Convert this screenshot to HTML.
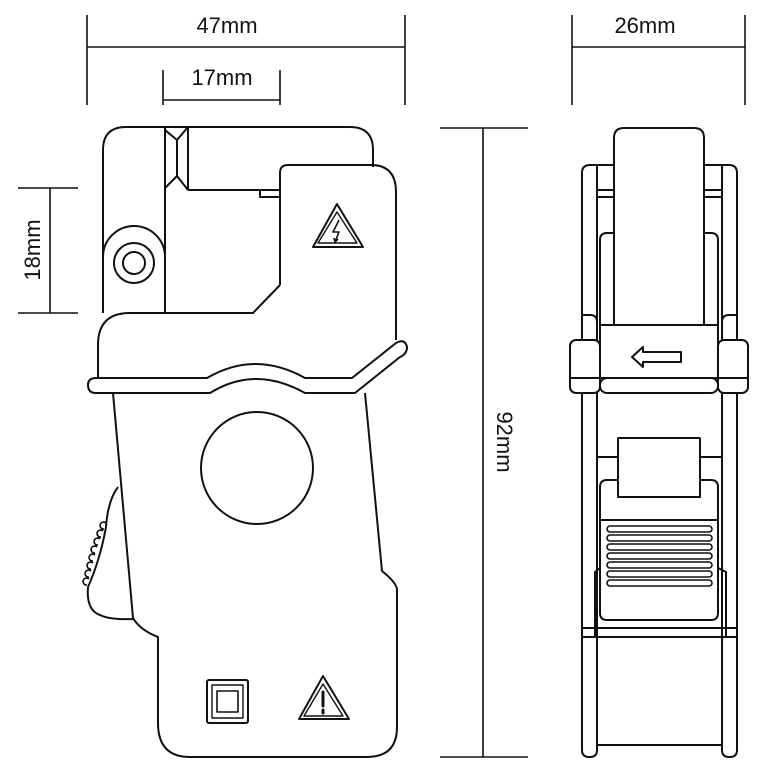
<!DOCTYPE html>
<html><head><meta charset="utf-8"><style>
html,body{margin:0;padding:0;background:#fff;width:760px;height:770px;overflow:hidden}
svg{display:block}
text{font-family:"Liberation Sans",sans-serif;font-size:22px;fill:#111}
</style></head><body>
<svg width="760" height="770" viewBox="0 0 760 770" xmlns="http://www.w3.org/2000/svg">
<g fill="none" stroke="#111" stroke-width="1.6">
<line x1="87" y1="15" x2="87" y2="105"/><line x1="405" y1="15" x2="405" y2="105"/>
<line x1="87" y1="47" x2="405" y2="47"/>
<line x1="163" y1="70" x2="163" y2="105"/><line x1="280" y1="70" x2="280" y2="105"/>
<line x1="163" y1="100" x2="280" y2="100"/>
<line x1="18" y1="188" x2="78" y2="188"/><line x1="18" y1="313" x2="78" y2="313"/>
<line x1="50" y1="188" x2="50" y2="313"/>
<line x1="440" y1="128" x2="528" y2="128"/><line x1="440" y1="757" x2="528" y2="757"/>
<line x1="483" y1="128" x2="483" y2="757"/>
<line x1="572" y1="15" x2="572" y2="105"/><line x1="745" y1="15" x2="745" y2="105"/>
<line x1="572" y1="47" x2="745" y2="47"/>
</g>
<text x="227" y="33" text-anchor="middle">47mm</text>
<text x="222" y="85" text-anchor="middle">17mm</text>
<text x="645" y="33" text-anchor="middle">26mm</text>
<text transform="translate(40,250) rotate(-90)" text-anchor="middle">18mm</text>
<text transform="translate(497,442) rotate(90)" text-anchor="middle">92mm</text>

<g fill="none" stroke="#111" stroke-width="2" stroke-linejoin="round">
<path d="M103,313 V150 Q103,127 126,127 H350 Q373,127 373,150 V167"/>
<line x1="165" y1="127" x2="165" y2="313"/>
<path d="M165,130 L177,140 V176 L165,188"/>
<path d="M188,127 L177,140 M177,176 L188,190"/>
<line x1="188" y1="127" x2="188" y2="190"/>
<line x1="188" y1="190" x2="280" y2="190"/>
<path d="M260,190 V197 H280"/>
<path d="M280,285 V173 Q280,165 288,165 H371 Q396,165 396,192 V340"/>
<path d="M280,285 L253,313 H130 Q98,313 98,345 V378"/>
<path d="M103,257 A31,31 0 0 1 165,257"/>
<circle cx="134" cy="263" r="20"/><circle cx="134" cy="263" r="11"/>
<path d="M96,378 H207 Q255,350 305,378 H352 L396,343 Q405,338 407,347 Q407,354 400,357 L355,393 H305 Q255,365 210,393 H96 Q88,393 88,385 Q88,378 96,378 Z"/>
<path d="M113,393 L133,618 Q140,630 158,637 V723 Q158,757 190,757 H367 Q397,757 397,727 V590 Q397,583 382,571 L365,393"/>
<path d="M118,487 Q108,500 106,527 Q100,560 88,587 Q86,610 100,615 Q110,620 133,619"/>
<path d="M106,523 a3.5,3.5 0 1 0 -2,6 M103,531 a3.5,3.5 0 1 0 -2,6 M100,539 a3.5,3.5 0 1 0 -2,6 M97,547 a3.5,3.5 0 1 0 -2,6 M95,555 a3.5,3.5 0 1 0 -2,6 M93,563 a3.5,3.5 0 1 0 -2,6 M91,571 a3.5,3.5 0 1 0 -2,6 M89,579 a3.5,3.5 0 1 0 -2,6" stroke-width="1.6"/>
<circle cx="257" cy="468" r="56"/>
<rect x="207" y="680" width="41" height="43" rx="2"/>
<rect x="212" y="685" width="31" height="33" stroke-width="1.4"/>
<rect x="217" y="691" width="21" height="21" stroke-width="1.6"/>
<path d="M323,676 L349,719 H299 Z"/><path d="M323,684 L343,716 H304 Z" stroke-width="1.4"/>
<path d="M323,692 V706 M323,710 V713" stroke-width="3" stroke-linecap="round"/>
<path d="M337,204 L363,247 H313 Z"/><path d="M337,212 L357,243 H318 Z" stroke-width="1.4"/>
<path d="M339,220 L333,232 H339 L335,242 M334,238 L335,242 L338,239" stroke-width="1.6"/>

<!-- right view -->
<path d="M614,325 V138 Q614,128 624,128 H694 Q704,128 704,138 V325"/>
<path d="M582,340 V173 Q582,165 590,165 H614 M704,165 H729 Q737,165 737,173 V340"/>
<path d="M582,393 V750 Q582,757 589,757 H590 Q597,757 597,750 V393"/>
<path d="M722,393 V750 Q722,757 729,757 H730 Q737,757 737,750 V393"/>
<path d="M597,165 V340 M722,165 V340"/>
<path d="M597,190 H614 M597,197 H614 M704,190 H722 M704,197 H722"/>
<path d="M600,325 V240 Q600,233 607,233 H614 M704,233 H711 Q718,233 718,240 V325"/>
<rect x="600" y="325" width="118" height="53"/>
<rect x="600" y="378" width="118" height="15" rx="7"/>
<rect x="570" y="340" width="30" height="53" rx="6"/>
<rect x="718" y="340" width="30" height="53" rx="6"/>
<path d="M570,378 H600 M718,378 H748"/>
<path d="M582,315 H590 Q597,315 597,322 V340 M737,315 H729 Q722,315 722,322 V340"/>
<path d="M632,357 L643,347 V352 H681 V362 H643 V367 Z"/>
<rect x="618" y="438" width="82" height="59"/>
<path d="M597,457 H618 M700,457 H722"/>
<path d="M618,480 H607 Q600,480 600,487 V613 Q600,620 607,620 H711 Q718,620 718,613 V487 Q718,480 711,480 H700"/>
<line x1="600" y1="520" x2="718" y2="520"/>
<g stroke-width="1.6">
<rect x="607" y="526" width="105" height="6" rx="3"/>
<rect x="607" y="535" width="105" height="6" rx="3"/>
<rect x="607" y="544" width="105" height="6" rx="3"/>
<rect x="607" y="553" width="105" height="6" rx="3"/>
<rect x="607" y="562" width="105" height="6" rx="3"/>
<rect x="607" y="571" width="105" height="6" rx="3"/>
<rect x="607" y="580" width="105" height="6" rx="3"/>
</g>
<path d="M595,637 V572 L600,568 M726,637 V572 L718,568"/>
<path d="M582,628 H737 M582,637 H737"/>
<path d="M597,745 H722"/>
</g>
</svg>
</body></html>
